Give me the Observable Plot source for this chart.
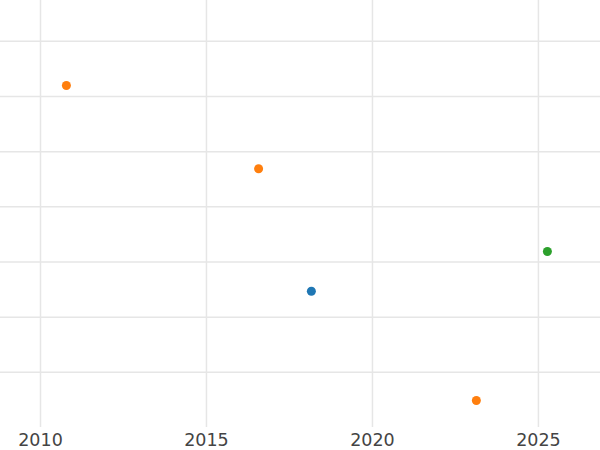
<!DOCTYPE html>
<html>
<head>
<meta charset="utf-8">
<script src="https://cdn.jsdelivr.net/npm/d3@7"></script>
<script src="https://cdn.jsdelivr.net/npm/@observablehq/plot@0.6"></script>
<style>
  html, body { margin: 0; padding: 0; background: #fff; }
  #chart svg { display: block; }
</style>
</head>
<body>
<div id="chart"></div>
<script>
const years  = [2010.78, 2016.57, 2018.16, 2025.27, 2023.13];
const values = [6.20, 4.69, 2.47, 3.19, 0.49];
const groups = ["B", "B", "A", "C", "B"];
const groupNames  = ["A", "B", "C"];
const groupColors = ["#1f77b4", "#ff7f0e", "#2ca02c"];
const xTicks = [2010, 2015, 2020, 2025];
const yTicks = [1, 2, 3, 4, 5, 6, 7];

const data = years.map((x, i) => ({x, y: values[i], g: groups[i]}));

const chart = Plot.plot({
  width: 600,
  height: 450,
  marginTop: 0,
  marginBottom: 23,
  marginLeft: 0,
  marginRight: 0,
  style: { fontFamily: "DejaVu Sans", background: "#fff" },
  x: { domain: [2008.795, 2026.87], axis: null, label: null },
  y: { domain: [0, 7.74], axis: null, label: null },
  color: { domain: groupNames, range: groupColors },
  marks: [
    Plot.gridY(yTicks, { stroke: "#e6e6e6", strokeOpacity: 1, strokeWidth: 1.5 }),
    Plot.gridX(xTicks, { stroke: "#e6e6e6", strokeOpacity: 1, strokeWidth: 1.5 }),
    Plot.axisX(xTicks, { tickSize: 0, tickPadding: 6, fontSize: 17.5, fill: "#444", label: null, tickFormat: d => String(d) }),
    Plot.dot(data, { x: "x", y: "y", fill: "g", r: 4.5, stroke: "none" })
  ]
});
document.getElementById("chart").appendChild(chart);
</script>
</body>
</html>
